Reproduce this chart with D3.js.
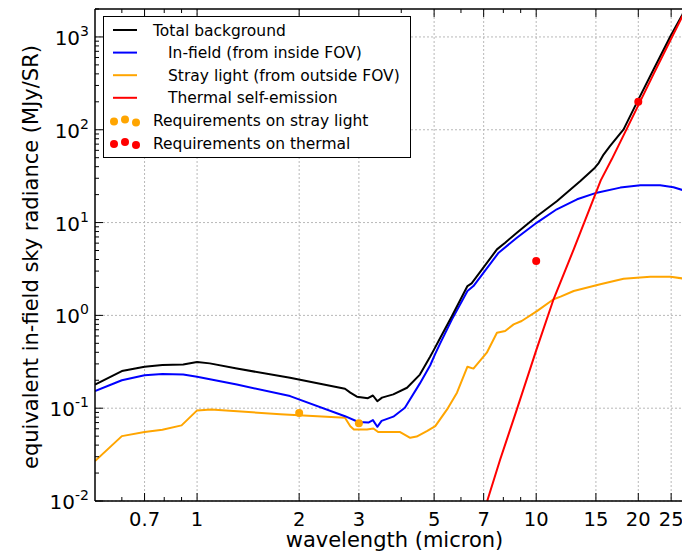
<!DOCTYPE html>
<meta charset="utf-8">
<script src="https://d3js.org/d3.v7.min.js"></script>
<style>
body { margin: 0; background: #fff; }
text { font-family: "DejaVu Sans", sans-serif; fill: #000; }
.grid line { stroke: #b8b8b8; stroke-dasharray: 2,2; stroke-width: 1; }
.curve { fill: none; stroke-width: 2; stroke-linejoin: round; }
</style>
<div id="my_dataviz"></div>
<script>

// wavelength (micron) / radiance (MJy/sr)
var totalWl  = [0.5, 0.6, 0.7, 0.79, 0.91, 1.0, 1.09, 1.31, 1.88, 2.73, 2.83, 2.96, 3.19, 3.30, 3.40, 3.51, 3.79, 4.16, 4.54, 4.87, 5.0, 5.21, 5.64, 6.27, 6.45, 7.66, 8.1, 8.77, 10.05, 11.5, 12.3, 13.5, 14.9, 15.3, 15.8, 16.5, 18.1, 19.8, 22.2, 24.9, 27, 28];
var totalVal = [0.180, 0.251, 0.28, 0.292, 0.296, 0.314, 0.304, 0.267, 0.213, 0.162, 0.147, 0.133, 0.128, 0.137, 0.119, 0.13, 0.141, 0.166, 0.23, 0.36, 0.43, 0.57, 0.98, 2.07, 2.21, 5.14, 6.07, 7.78, 11.7, 17, 21, 28, 39, 44, 54, 66.7, 101, 196, 448, 1023, 1750, 2300];

var infieldWl  = [0.5, 0.6, 0.7, 0.79, 0.91, 1.0, 1.31, 1.88, 2.73, 2.99, 3.2, 3.3, 3.4, 3.5, 3.79, 4.1, 4.54, 4.87, 5.03, 5.21, 5.64, 6.27, 6.53, 7.75, 8.77, 10.05, 11.5, 13.2, 15.1, 17.7, 20.3, 23.2, 25.4, 27, 28];
var infieldVal = [0.153, 0.20, 0.226, 0.233, 0.231, 0.218, 0.18, 0.135, 0.082, 0.071, 0.070, 0.0744, 0.063, 0.073, 0.081, 0.101, 0.185, 0.29, 0.38, 0.5, 0.9, 1.83, 2.07, 4.74, 6.87, 10, 13.9, 17.8, 21, 23.8, 25.2, 25.2, 24, 22.4, 21.5];

var strayWl  = [0.5, 0.6, 0.7, 0.79, 0.9, 1.0, 1.1, 1.76, 2.73, 2.83, 2.9, 3.17, 3.31, 3.42, 3.97, 4.25, 4.44, 4.76, 5.04, 5.46, 5.84, 6.27, 6.53, 7.15, 7.66, 8.1, 8.58, 9.06, 10.05, 11.25, 11.8, 12.9, 15.45, 18.1, 21.7, 24.9, 27, 28];
var strayVal = [0.0269, 0.050, 0.0553, 0.0587, 0.0653, 0.0947, 0.097, 0.086, 0.079, 0.064, 0.059, 0.059, 0.0605, 0.0553, 0.0553, 0.048, 0.0495, 0.0567, 0.064, 0.097, 0.147, 0.28, 0.267, 0.396, 0.65, 0.68, 0.80, 0.87, 1.11, 1.49, 1.59, 1.83, 2.16, 2.48, 2.61, 2.61, 2.5, 2.45];

var thermalWl  = [7.17, 7.83, 8.77, 10, 11.25, 12.9, 15.5, 16.7, 19.8, 22.2, 27, 28];
var thermalVal = [0.01, 0.028, 0.097, 0.42, 1.49, 5.14, 28.5, 48, 170, 400, 1680, 2200];

var strayReqWl  = [2, 3];
var strayReqVal = [0.089, 0.069];
var thermalReqWl  = [10, 20];
var thermalReqVal = [3.85, 200];

var xTicks = [0.7, 1, 2, 3, 5, 7, 10, 15, 20, 25];
var xMinor = [0.6, 0.8, 0.9, 4, 6, 8, 9];
var yTicks = [0.01, 0.1, 1, 10, 100, 1000];

var legendItems = [
  {label: "Total background", color: "black", kind: "line", indent: 0},
  {label: "In-field (from inside FOV)", color: "blue", kind: "line", indent: 15},
  {label: "Stray light (from outside FOV)", color: "orange", kind: "line", indent: 15},
  {label: "Thermal self-emission", color: "red", kind: "line", indent: 15},
  {label: "Requirements on stray light", color: "orange", kind: "dots", indent: 0},
  {label: "Requirements on thermal", color: "red", kind: "dots", indent: 0}
];

// layout
var W = 682, H = 552;
var margin = {left: 95, top: 9, right: 698, bottom: 501};

var svg = d3.select("#my_dataviz").append("svg")
    .attr("width", W)
    .attr("height", H);

var x = d3.scaleLog().domain([0.5, 30]).range([margin.left, margin.right]);
var y = d3.scaleLog().domain([0.01, 2000]).range([margin.bottom, margin.top]);

svg.append("clipPath").attr("id", "clip")
  .append("rect")
    .attr("x", margin.left).attr("y", margin.top)
    .attr("width", margin.right - margin.left).attr("height", margin.bottom - margin.top);

// grid
var grid = svg.append("g").attr("class", "grid");
grid.selectAll(".gx").data(xTicks).enter().append("line")
    .attr("x1", function(d) { return x(d); }).attr("x2", function(d) { return x(d); })
    .attr("y1", margin.top).attr("y2", margin.bottom);
grid.selectAll(".gy").data(yTicks).enter().append("line")
    .attr("x1", margin.left).attr("x2", margin.right)
    .attr("y1", function(d) { return y(d); }).attr("y2", function(d) { return y(d); });

// curves
var line = d3.line()
    .x(function(d) { return x(d[0]); })
    .y(function(d) { return y(d[1]); });

var plot = svg.append("g").attr("clip-path", "url(#clip)");

function addCurve(wl, val, color) {
  plot.append("path")
    .datum(d3.zip(wl, val))
    .attr("class", "curve")
    .attr("stroke", color)
    .attr("d", line);
}
addCurve(strayWl, strayVal, "orange");
addCurve(infieldWl, infieldVal, "blue");
addCurve(totalWl, totalVal, "black");
addCurve(thermalWl, thermalVal, "red");

function addDots(wl, val, color) {
  plot.selectAll(null)
    .data(d3.zip(wl, val))
    .enter().append("circle")
      .attr("cx", function(d) { return x(d[0]); })
      .attr("cy", function(d) { return y(d[1]); })
      .attr("r", 4)
      .attr("fill", color);
}
addDots(strayReqWl, strayReqVal, "orange");
addDots(thermalReqWl, thermalReqVal, "red");

// frame
var frame = svg.append("g").attr("stroke", "black").attr("stroke-width", 1.5);
frame.append("line").attr("x1", margin.left).attr("x2", margin.left).attr("y1", margin.top).attr("y2", margin.bottom);
frame.append("line").attr("x1", margin.left).attr("x2", margin.right).attr("y1", margin.bottom).attr("y2", margin.bottom);
frame.append("line").attr("x1", margin.left).attr("x2", margin.right).attr("y1", margin.top).attr("y2", margin.top);
frame.append("line").attr("x1", margin.right).attr("x2", margin.right).attr("y1", margin.top).attr("y2", margin.bottom);

// ticks (inward, classic style)
var ticks = svg.append("g").attr("stroke", "black").attr("stroke-width", 1);
xTicks.forEach(function(d) {
  ticks.append("line").attr("x1", x(d)).attr("x2", x(d)).attr("y1", margin.bottom).attr("y2", margin.bottom - 8);
  ticks.append("line").attr("x1", x(d)).attr("x2", x(d)).attr("y1", margin.top).attr("y2", margin.top + 8);
});
xMinor.forEach(function(d) {
  ticks.append("line").attr("x1", x(d)).attr("x2", x(d)).attr("y1", margin.bottom).attr("y2", margin.bottom - 4);
  ticks.append("line").attr("x1", x(d)).attr("x2", x(d)).attr("y1", margin.top).attr("y2", margin.top + 4);
});
yTicks.forEach(function(d) {
  ticks.append("line").attr("x1", margin.left).attr("x2", margin.left + 8).attr("y1", y(d)).attr("y2", y(d));
  for (var k = 2; k <= 9; k++) {
    var v = d * k;
    if (v <= 2000) {
      ticks.append("line").attr("x1", margin.left).attr("x2", margin.left + 4).attr("y1", y(v)).attr("y2", y(v));
    }
  }
});

// tick labels
svg.append("g").selectAll("text").data(xTicks).enter().append("text")
    .attr("x", function(d) { return x(d); })
    .attr("y", margin.bottom + 25)
    .attr("text-anchor", "middle")
    .style("font-size", "19.5px")
    .text(function(d) { return d; });

var yl = svg.append("g").selectAll("text").data(yTicks).enter().append("text")
    .attr("x", 89)
    .attr("y", function(d) { return y(d) + 8; })
    .attr("text-anchor", "end")
    .style("font-size", "20px");
yl.append("tspan").text("10");
yl.append("tspan")
    .attr("dy", -9)
    .style("font-size", "14px")
    .text(function(d) { return Math.round(Math.log10(d)); });

// axis labels
svg.append("text")
    .attr("x", (margin.left + 682) / 2 + 6)
    .attr("y", 547)
    .attr("text-anchor", "middle")
    .style("font-size", "21px")
    .text("wavelength (micron)");

svg.append("text")
    .attr("transform", "translate(38," + ((margin.top + margin.bottom) / 2 + 2) + ") rotate(-90)")
    .attr("text-anchor", "middle")
    .style("font-size", "21px")
    .text("equivalent in-field sky radiance (MJy/SR)");

// legend
var lg = svg.append("g");
lg.append("rect")
    .attr("x", 103.5).attr("y", 16.5)
    .attr("width", 307).attr("height", 141)
    .attr("fill", "white").attr("stroke", "black").attr("stroke-width", 1);

var rowY = d3.scaleLinear().domain([0, 5]).range([30, 143]);
legendItems.forEach(function(it, i) {
  var cy = rowY(i);
  if (it.kind == "line") {
    lg.append("line").attr("x1", 113).attr("x2", 137).attr("y1", cy).attr("y2", cy)
      .attr("stroke", it.color).attr("stroke-width", 2);
  } else {
    [[114, 1], [125, -1], [136, 2]].forEach(function(p) {
      lg.append("circle").attr("cx", p[0]).attr("cy", cy + p[1]).attr("r", 4).attr("fill", it.color);
    });
  }
  lg.append("text")
    .attr("x", 153 + it.indent)
    .attr("y", cy + 5.5)
    .style("font-size", "15.5px")
    .text(it.label);
});

</script>
